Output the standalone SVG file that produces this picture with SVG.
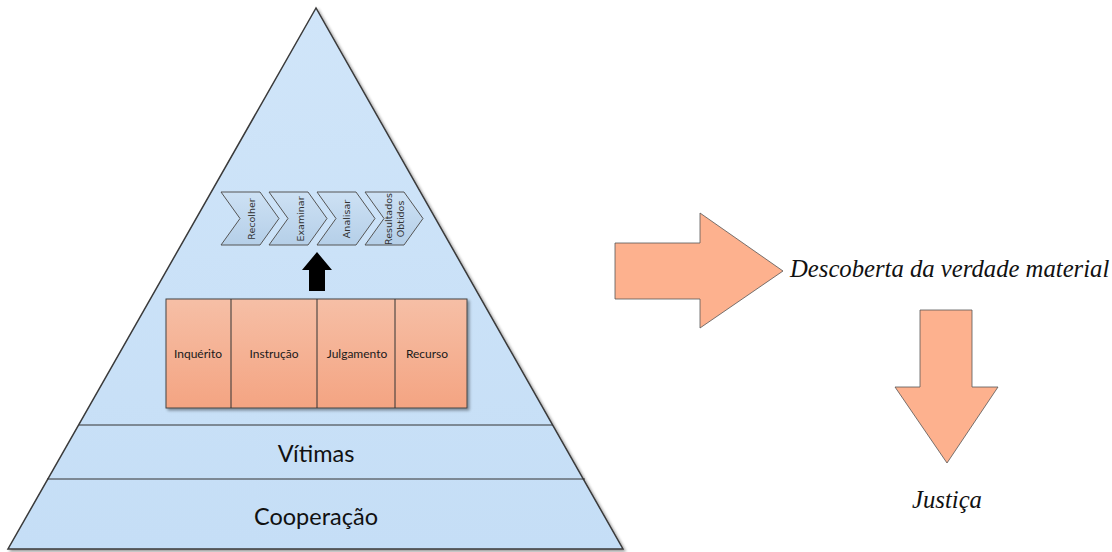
<svg xmlns="http://www.w3.org/2000/svg" width="1112" height="552" viewBox="0 0 1112 552">
<defs>
<linearGradient id="pyr" x1="0" y1="0" x2="0" y2="1">
<stop offset="0" stop-color="#d0e5f9"/>
<stop offset="1" stop-color="#c5def6"/>
</linearGradient>
<linearGradient id="box" x1="0" y1="0" x2="0" y2="1">
<stop offset="0" stop-color="#f6bfa6"/>
<stop offset="1" stop-color="#f4a482"/>
</linearGradient>
<linearGradient id="chev" x1="0" y1="0" x2="0" y2="1">
<stop offset="0" stop-color="#cde1f4"/>
<stop offset="1" stop-color="#b5cfe8"/>
</linearGradient>
<filter id="sh" x="-10%" y="-10%" width="120%" height="120%">
<feGaussianBlur in="SourceAlpha" stdDeviation="1.5"/>
<feOffset dx="2" dy="2"/>
<feComponentTransfer><feFuncA type="linear" slope="0.4"/></feComponentTransfer>
<feMerge><feMergeNode/><feMergeNode in="SourceGraphic"/></feMerge>
</filter>
</defs>
<style>
.layer{font-family:Lato,"Open Sans",sans-serif;font-size:23.5px;fill:#111;text-anchor:middle}
.stage{font-family:Lato,"Open Sans",sans-serif;font-size:12px;fill:#1a1a1a;text-anchor:middle}
.step{font-family:"DejaVu Sans",sans-serif;font-size:9.5px;fill:#333;text-anchor:middle}
.ital{font-family:"Liberation Serif","Times New Roman",serif;font-style:italic;font-size:24.7px;fill:#111}
.ch{fill:url(#chev);stroke:#555;stroke-width:1}
.big{fill:#fdb18e;stroke:#555;stroke-width:0.8}
.div{stroke:#333;stroke-width:1}
</style>
<g id="pyramid">
<polygon points="316,8 8,549 623,549" fill="url(#pyr)" stroke="#3a3a3a" stroke-width="1.5" filter="url(#sh)"/>
<line class="div" x1="79" y1="425" x2="553" y2="425"/>
<line class="div" x1="47" y1="479" x2="585" y2="479"/>
</g>
<g id="vitimas"><text class="layer" x="316" y="462">Vítimas</text></g>
<g id="cooperacao"><text class="layer" x="316" y="525">Cooperação</text></g>
<g id="stages" filter="url(#sh)">
<rect x="166" y="299" width="301" height="109" fill="url(#box)" stroke="#444" stroke-width="1"/>
<line class="div" x1="231" y1="299" x2="231" y2="408"/>
<line class="div" x1="317" y1="299" x2="317" y2="408"/>
<line class="div" x1="395" y1="299" x2="395" y2="408"/>
</g>
<g id="inquerito"><text class="stage" x="198" y="358">Inquérito</text></g>
<g id="instrucao"><text class="stage" x="274" y="358">Instrução</text></g>
<g id="julgamento"><text class="stage" x="357" y="358">Julgamento</text></g>
<g id="recurso"><text class="stage" x="427" y="358">Recurso</text></g>
<g id="recolher">
<polygon class="ch" points="221,192 260,192 279,218.5 260,245 221,245 240,218.5"/>
<text class="step" transform="translate(255,219) rotate(-90)">Recolher</text>
</g>
<g id="examinar">
<polygon class="ch" points="269,192 308,192 327,218.5 308,245 269,245 288,218.5"/>
<text class="step" transform="translate(304,219) rotate(-90)">Examinar</text>
</g>
<g id="analisar">
<polygon class="ch" points="317,192 356,192 375,218.5 356,245 317,245 336,218.5"/>
<text class="step" transform="translate(350,219) rotate(-90)">Analisar</text>
</g>
<g id="resultados">
<polygon class="ch" points="365,192 404,192 423,218.5 404,245 365,245 384,218.5"/>
<text class="step" transform="translate(392,219) rotate(-90)">Resultados</text>
<text class="step" transform="translate(404,219) rotate(-90)">Obtidos</text>
</g>
<g id="connectors">
<polygon points="317,252 332,270 325,270 325,291 309,291 309,270 302,270" fill="#000"/>
<polygon class="big" points="615,243 700,243 700,213 783,271 700,328 700,299 615,299"/>
<polygon class="big" points="920,310 972,310 972,387 998,387 947,463 895,387 920,387"/>
</g>
<g id="descoberta"><text class="ital" x="790" y="277">Descoberta da verdade material</text></g>
<g id="justica"><text class="ital" x="912" y="508">Justiça</text></g>
</svg>
